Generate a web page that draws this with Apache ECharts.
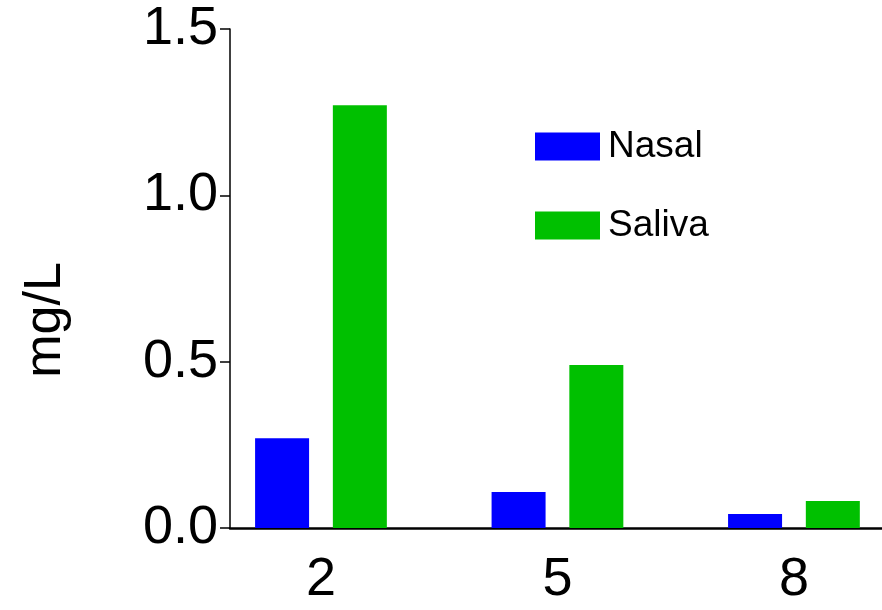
<!DOCTYPE html>
<html>
<head>
<meta charset="utf-8">
<script src="https://cdn.jsdelivr.net/npm/echarts@6/dist/echarts.min.js"></script>
<style>
  html, body { margin: 0; padding: 0; background: #fff; }
  #chart { width: 882px; height: 610px; }
</style>
</head>
<body>
<div id="chart"></div>
<script>
// groups on the x axis
const groups = [2, 5, 8];
const nasal = [0.27, 0.108, 0.042];
const saliva = [1.271, 0.49, 0.081];
const yTicks = [0, 0.5, 1.0, 1.5];

const chart = echarts.init(document.getElementById('chart'));

function pairs(vals) {
  return groups.map((g, i) => [g, vals[i]]);
}

const font = '"Liberation Sans", Arial';

const option = {
  backgroundColor: '#fff',
  animation: false,
  grid: { left: 230, right: 0, top: 29, bottom: 82, outerBoundsMode: 'none' },
  legend: {
    orient: 'vertical',
    left: 535,
    top: 128,
    padding: 0,
    itemWidth: 65,
    itemHeight: 28,
    itemGap: 42,
    icon: 'rect',
    textStyle: {
      fontFamily: font,
      fontSize: 37,
      color: '#000',
      padding: [0, 0, 0, 3]
    },
    data: ['Nasal', 'Saliva']
  },
  // y axis title sits lower than the grid middle in the original
  graphic: [{
    type: 'text',
    x: 46,
    y: 320,
    rotation: Math.PI / 2,
    style: {
      text: 'mg/L',
      fontFamily: font,
      fontSize: 52,
      fill: '#000',
      align: 'center',
      verticalAlign: 'middle'
    }
  }],
  xAxis: {
    type: 'value',
    min: 0.846,
    max: 9.117,
    splitLine: { show: false },
    axisLine: { show: true, onZero: false, lineStyle: { color: '#000', width: 2.5 } },
    axisTick: { show: false },
    axisLabel: {
      customValues: groups,
      margin: 25,
      fontFamily: font,
      fontSize: 54,
      color: '#000'
    }
  },
  yAxis: {
    type: 'value',
    min: 0,
    max: 1.5,
    interval: 0.5,
    splitLine: { show: false },
    axisLine: { show: true, lineStyle: { color: '#000', width: 1.5 } },
    axisTick: { show: true, length: 10, lineStyle: { color: '#000', width: 1.5 } },
    axisLabel: {
      margin: 12,
      fontFamily: font,
      fontSize: 54,
      color: '#000',
      formatter: v => v.toFixed(1)
    }
  },
  series: [
    {
      name: 'Nasal',
      type: 'bar',
      barWidth: 54,
      barGap: '44%',
      itemStyle: { color: '#0000ff' },
      data: pairs(nasal)
    },
    {
      name: 'Saliva',
      type: 'bar',
      barWidth: 54,
      barGap: '44%',
      itemStyle: { color: '#00c000' },
      data: pairs(saliva)
    }
  ]
};

chart.setOption(option);
</script>
</body>
</html>
